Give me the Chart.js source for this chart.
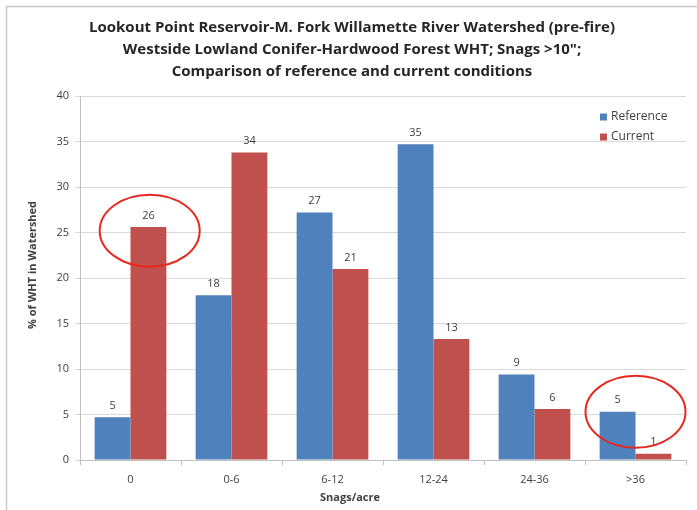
<!DOCTYPE html>
<html>
<head>
<meta charset="utf-8">
<script src="https://cdn.jsdelivr.net/npm/chart.js@4/dist/chart.umd.min.js"></script>
<style>
html,body{margin:0;padding:0;background:#fff;}
#wrap{position:absolute;left:0;top:0;width:697px;height:510px;}
</style>
</head>
<body>
<div id="wrap"><canvas id="c" width="697" height="510"></canvas></div>
<script>
const categories = ["0", "0-6", "6-12", "12-24", "24-36", ">36"];
const referenceValues = [4.7, 18.1, 27.2, 34.7, 9.4, 5.3];
const currentValues = [25.6, 33.8, 21.0, 13.3, 5.6, 0.7];
const seriesNames = ["Reference", "Current"];
const titleLines = [
  "Lookout Point Reservoir-M. Fork Willamette River Watershed (pre-fire)",
  "Westside Lowland Conifer-Hardwood Forest WHT; Snags >10\";",
  "Comparison of reference and current conditions"
];
const yAxisTitle = "% of WHT in Watershed";
const xAxisTitle = "Snags/acre";
// highlighted spots: [categoryIndex, value, offset within category]
const highlights = [[0, 25.2, 0.19], [5, 5.3, 0.0]];

const FONT = "'Open Sans', 'Liberation Sans', sans-serif";

const extras = {
  id: 'extras',
  afterDatasetsDraw(chart) {
    const ctx = chart.ctx;
    const xs = chart.scales.x, ys = chart.scales.y;
    ctx.save();
    ctx.font = "11px " + FONT;
    ctx.fillStyle = "#404040";
    ctx.textAlign = "center";
    ctx.textBaseline = "bottom";
    chart.data.datasets.forEach((ds, di) => {
      chart.getDatasetMeta(di).data.forEach((bar, i) => {
        ctx.fillText(String(Math.round(ds.data[i])), bar.x, bar.y - 6);
      });
    });
    ctx.restore();
    ctx.save();
    ctx.strokeStyle = "#E8281E";
    ctx.lineWidth = 2;
    const step = (xs.getPixelForValue(1) - xs.getPixelForValue(0));
    highlights.forEach(([ci, v, off]) => {
      const cx = xs.getPixelForValue(ci) + off * step;
      const cy = ys.getPixelForValue(v);
      ctx.beginPath();
      ctx.ellipse(cx, cy, 50, 36, 0, 0, Math.PI * 2);
      ctx.stroke();
    });
    ctx.restore();
  },
  afterDraw(chart) {
    const ctx = chart.ctx;
    ctx.save();
    ctx.strokeStyle = "#C8C8C8";
    ctx.lineWidth = 1.5;
    ctx.beginPath();
    ctx.moveTo(6.5, 510);
    ctx.lineTo(6.5, 6.5);
    ctx.lineTo(697, 6.5);
    ctx.stroke();
    ctx.fillStyle = "#262626";
    ctx.font = "bold 15px " + FONT;
    ctx.textAlign = "center";
    ctx.textBaseline = "middle";
    titleLines.forEach((t, i) => ctx.fillText(t, 352, 28 + i * 22));
    ctx.font = "bold 11px " + FONT;
    ctx.fillStyle = "#404040";
    ctx.fillText(xAxisTitle, 350, 498);
    ctx.save();
    ctx.translate(33, 265);
    ctx.rotate(-Math.PI / 2);
    ctx.fillText(yAxisTitle, 0, 0);
    ctx.restore();
    ctx.font = "12px " + FONT;
    ctx.textAlign = "left";
    chart.data.datasets.forEach((ds, i) => {
      const y = 117 + i * 20;
      ctx.fillStyle = ds.backgroundColor;
      ctx.fillRect(600, y - 3.5, 7, 7);
      ctx.fillStyle = "#404040";
      ctx.fillText(ds.label, 611, y);
    });
    ctx.restore();
  }
};

new Chart(document.getElementById('c'), {
  type: 'bar',
  data: {
    labels: categories,
    datasets: [
      { label: seriesNames[0], data: referenceValues, backgroundColor: "#4F81BD" },
      { label: seriesNames[1], data: currentValues, backgroundColor: "#C0504D" }
    ]
  },
  options: {
    responsive: false,
    animation: false,
    devicePixelRatio: 1,
    layout: { padding: { top: 96, left: 0, right: 11, bottom: 0 } },
    plugins: { legend: { display: false }, title: { display: false }, tooltip: { enabled: false } },
    datasets: { bar: { categoryPercentage: 0.71, barPercentage: 1.0 } },
    scales: {
      x: {
        grid: { display: true, drawOnChartArea: false, color: "#BFBFBF", tickLength: 5, offset: true },
        border: { color: "#BFBFBF" },
        ticks: { color: "#404040", font: { family: FONT, size: 11 }, padding: 8 },
        afterFit(s) { s.height = 50; }
      },
      y: {
        min: 0, max: 40,
        ticks: { stepSize: 5, color: "#404040", font: { family: FONT, size: 11 }, padding: 6 },
        grid: { color: "#D9D9D9", tickLength: 5 },
        border: { color: "#BFBFBF" },
        afterFit(s) { s.width = 80; }
      }
    }
  },
  plugins: [extras]
});
</script>
</body>
</html>
